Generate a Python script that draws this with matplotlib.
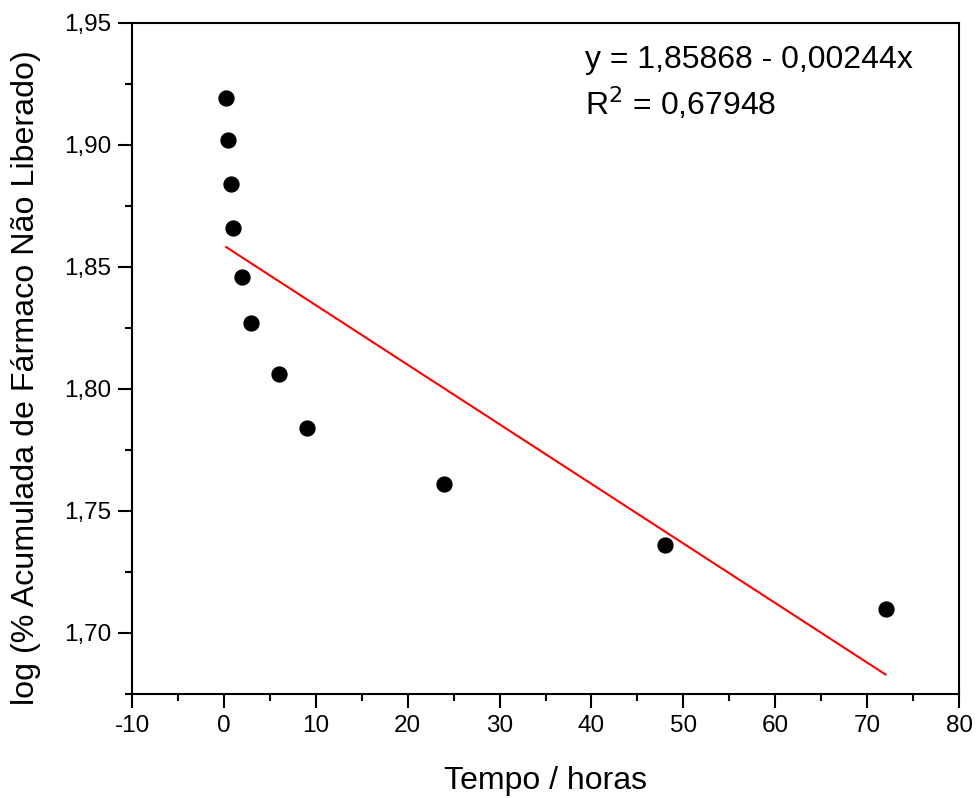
import numpy as np
import matplotlib
matplotlib.use("Agg")
import matplotlib.pyplot as plt
from matplotlib.ticker import MultipleLocator, FuncFormatter

plt.rcParams["font.family"] = ["Liberation Sans", "DejaVu Sans"]
plt.rcParams["axes.unicode_minus"] = False

# data
tempo = [0.25, 0.5, 0.75, 1, 2, 3, 6, 9, 24, 48, 72]
log_nao_liberado = [1.919, 1.902, 1.884, 1.866, 1.846, 1.827, 1.806, 1.784, 1.761, 1.736, 1.710]
intercepto = 1.85868
inclinacao = -0.00244
r2 = 0.67948

fig = plt.figure(figsize=(9.8, 7.98), dpi=100)
ax = fig.add_axes([0.1347, 0.1303, 0.8439, 0.8413])

ax.scatter(tempo, log_nao_liberado, s=115, color="black", zorder=3)

# linear fit drawn over the measured time range
x_fit = np.array([min(tempo), max(tempo)])
ax.plot(x_fit, intercepto + inclinacao * x_fit, color="red", lw=1.5)

ax.set_xlim(-10, 80)
ax.set_ylim(1.675, 1.95)
ax.xaxis.set_major_locator(MultipleLocator(10))
ax.xaxis.set_minor_locator(MultipleLocator(5))
ax.yaxis.set_major_locator(MultipleLocator(0.05))
ax.yaxis.set_minor_locator(MultipleLocator(0.025))
ax.yaxis.set_major_formatter(FuncFormatter(lambda v, p: f"{v:.2f}".replace(".", ",")))

for s in ax.spines.values():
    s.set_linewidth(1.5)
ax.tick_params(which="major", direction="out", length=10, width=1.5, labelsize=17.5, pad=5)
ax.tick_params(which="minor", direction="out", length=5, width=1.5)

ax.set_xlabel("Tempo / horas", fontsize=23)
ax.set_ylabel("log (% Acumulada de Fármaco Não Liberado)", fontsize=23.2)
ax.xaxis.set_label_coords(0.5, -0.107)
ax.yaxis.set_label_coords(-0.11, 0.471)

ax.text(0.548, 0.945, f"y = {intercepto:.5f} - {abs(inclinacao):.5f}x".replace(".", ","),
        transform=ax.transAxes, fontsize=23, va="center")
ax.text(0.548, 0.879, f"R$^2$ = {r2:.5f}".replace(".", ","),
        transform=ax.transAxes, fontsize=23, va="center")

fig.savefig("out.png", dpi=100)
